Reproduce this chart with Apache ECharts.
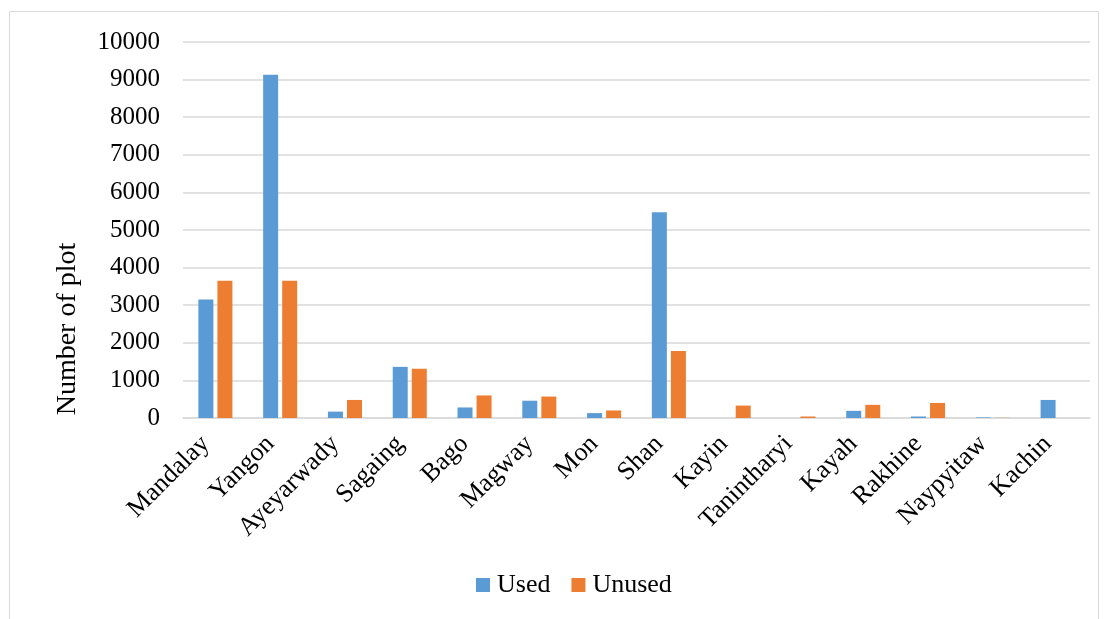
<!DOCTYPE html>
<html>
<head>
<meta charset="utf-8">
<style>
  html, body { margin: 0; padding: 0; background: #ffffff; }
  #chart { width: 1108px; height: 619px; }
</style>
<script src="https://cdn.jsdelivr.net/npm/echarts@6/dist/echarts.min.js"></script>
</head>
<body>
<div id="chart"></div>
<script>
// Plots per region
const regions = ['Mandalay', 'Yangon', 'Ayeyarwady', 'Sagaing', 'Bago', 'Magway', 'Mon',
  'Shan', 'Kayin', 'Tanintharyi', 'Kayah', 'Rakhine', 'Naypyitaw', 'Kachin'];
const usedPlots   = [3150, 9130, 170, 1360, 280, 460, 130, 5470, 0, 0, 190, 40, 15, 480];
const unusedPlots = [3650, 3650, 480, 1310, 600, 570, 200, 1780, 330, 40, 350, 400, 5, 0];
const yTicks = { min: 0, max: 10000, step: 1000 };

const FONT = '"Liberation Serif", "Times New Roman", serif';
const GRID_COLOR = '#d9d9d9';

const chart = echarts.init(document.getElementById('chart'), null, { renderer: 'canvas' });

chart.setOption({
  backgroundColor: '#ffffff',
  animation: false,
  textStyle: { fontFamily: FONT, color: '#000000' },
  grid: { left: 183, right: 18, top: 42, bottom: 201, containLabel: false },
  graphic: [
    {
      type: 'rect',
      shape: { x: 9.5, y: 11.5, width: 1089, height: 620 },
      style: { fill: 'none', stroke: GRID_COLOR, lineWidth: 1 },
      silent: true
    },
    {
      type: 'text',
      x: 68,
      y: 329,
      rotation: Math.PI / 2,
      style: {
        text: 'Number of plot',
        font: '28px ' + FONT,
        fill: '#000000',
        textAlign: 'center',
        textVerticalAlign: 'middle'
      },
      silent: true
    }
  ],
  legend: {
    bottom: 16,
    left: 471,
    itemWidth: 14,
    itemHeight: 14,
    itemGap: 21,
    icon: 'rect',
    textStyle: { fontFamily: FONT, fontSize: 26, color: '#000000', padding: [0, 0, 0, 2] },
    data: ['Used', 'Unused']
  },
  xAxis: {
    type: 'category',
    data: regions,
    axisLine: { lineStyle: { color: GRID_COLOR, width: 1.5 } },
    axisTick: { show: false },
    axisLabel: {
      rotate: 45,
      interval: 0,
      margin: 12,
      padding: [0, 14, 0, 0],
      fontFamily: FONT,
      fontSize: 26,
      color: '#000000'
    }
  },
  yAxis: {
    type: 'value',
    min: yTicks.min,
    max: yTicks.max,
    interval: yTicks.step,
    axisLine: { show: false },
    axisTick: { show: false },
    axisLabel: {
      margin: 23,
      fontFamily: FONT,
      fontSize: 25,
      color: '#000000',
      formatter: (v) => String(v)
    },
    splitLine: { lineStyle: { color: GRID_COLOR, width: 1.5 } }
  },
  series: [
    {
      name: 'Used',
      type: 'bar',
      data: usedPlots,
      barWidth: 15,
      barGap: '27%',
      itemStyle: { color: '#5b9bd5' }
    },
    {
      name: 'Unused',
      type: 'bar',
      data: unusedPlots,
      barWidth: 15,
      itemStyle: { color: '#ed7d31' }
    }
  ]
});
</script>
</body>
</html>
